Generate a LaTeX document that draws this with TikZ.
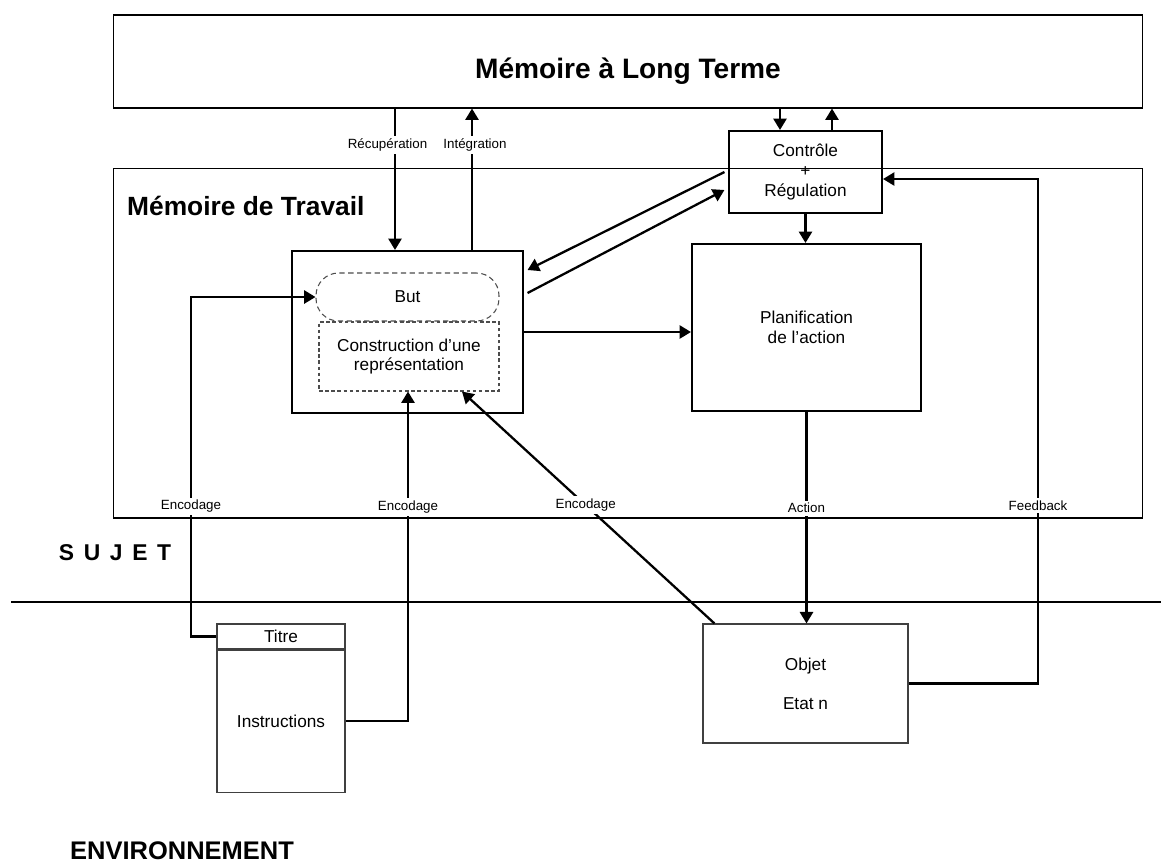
\documentclass[tikz,border=0pt]{standalone}
\usepackage{fontspec}
\setmainfont{Liberation Sans}
\usetikzlibrary{arrows.meta, positioning, calc}
\tikzset{
    mainbox/.style={rectangle, draw, line width=0.6pt, inner sep=0pt},
    block/.style={rectangle, draw, line width=1.2pt, align=center, font=\fontsize{9.8}{11.2}\selectfont, inner sep=0pt},
    envbox/.style={rectangle, draw=black!75, line width=0.7pt, align=center, font=\fontsize{9.8}{11.2}\selectfont, inner sep=0pt},
    dashbox/.style={rectangle, draw=black!70, line width=0.6pt, dash pattern=on 3pt off 2pt, align=center, font=\fontsize{9.8}{11.2}\selectfont, inner sep=0pt},
    lbl/.style={fill=white, inner sep=1.5pt, font=\fontsize{7.6}{9}\selectfont},
    bigtitle/.style={font=\fontsize{16}{19}\selectfont\bfseries},
    subtitle/.style={font=\fontsize{15}{18}\selectfont\bfseries},
    arrow/.style={-{Triangle[length=6.5pt,width=7.5pt]}, line width=1.3pt},
    link/.style={line width=1.3pt},
}
\begin{document}
\begin{tikzpicture}[x=0.02cm, y=-0.02cm]
    \useasboundingbox (0,0) rectangle (1161,867);

    % === MEMOIRE A LONG TERME ===
    \node[mainbox, minimum width=20.6cm, minimum height=1.86cm,
          label={[bigtitle, yshift=-0.2cm]center:Mémoire à Long Terme}] (ltm) at (628,61.5) {};

    % === MEMOIRE DE TRAVAIL ===
    \node[mainbox, minimum width=20.6cm, minimum height=7cm] (wm) at (628,343) {};
    \node[subtitle, anchor=west] (wmtitle) at (121,206) {Mémoire de Travail};

    \node[block, minimum width=3.06cm, minimum height=1.64cm] (ctrl) at (805.5,172) {Contrôle\\+\\Régulation};
    \node[block, minimum width=4.58cm, minimum height=3.34cm] (plan) at (806.5,327.5) {Planification\\de l'action};
    \node[block, minimum width=4.62cm, minimum height=3.24cm] (rep) at (407.5,332) {};
    \node[dashbox, rounded corners=0.45cm, minimum width=3.66cm, minimum height=0.96cm] (but) at (407.5,297) {But};
    \node[dashbox, dash pattern=on 2pt off 1.5pt, minimum width=3.6cm, minimum height=1.38cm] (constr) at (409,356.5) {Construction d'une\\représentation};

    % === SUJET / ENVIRONNEMENT ===
    \coordinate (sepleft) at (11,602);
    \coordinate (sepright) at (1161,602);
    \draw[link] (sepleft) -- (sepright);
    \node[font=\fontsize{13}{15}\selectfont\bfseries] (sujet) at (115,553) {\spaceskip=5.5pt\relax S U J E T};
    \node[font=\fontsize{14.5}{16}\selectfont\bfseries, anchor=west] (env) at (64,851) {ENVIRONNEMENT};

    \node[envbox, minimum width=2.56cm, minimum height=0.5cm] (titre) at (281,636.5) {Titre};
    \node[envbox, minimum width=2.56cm, minimum height=2.84cm, anchor=north] (instr) at (titre.south) {Instructions};
    \node[envbox, minimum width=4.1cm, minimum height=2.38cm] (objet) at (805.5,683.5) {Objet\\[11pt]Etat n};

    % connectors
    \coordinate (recx) at (395,0);
    \coordinate (intx) at (472,0);
    \coordinate (downx) at (780,0);
    \coordinate (upx) at (832,0);
    \coordinate (enc1) at (191,297);
    \coordinate (enc2) at (408,720);
    \coordinate (fb) at (1038,179);

    \draw[arrow] (ltm.south -| recx) -- node[lbl, pos=0.26, xshift=-0.15cm] {Récupération} (rep.north -| recx);
    \draw[arrow] (rep.north -| intx) -- node[lbl, pos=0.74, xshift=0.06cm] {Intégration} (ltm.south -| intx);
    \draw[arrow] (ltm.south -| downx) -- (ctrl.north -| downx);
    \draw[arrow] (ctrl.north -| upx) -- (ltm.south -| upx);
    \draw[arrow] (ctrl.south) -- (ctrl.south |- plan.north);
    \draw[arrow] ([xshift=-2pt]ctrl.west) -- ([xshift=2pt, yshift=1.24cm]rep.east);
    \draw[arrow] ([xshift=2pt, yshift=0.78cm]rep.east) -- ([xshift=-2pt, yshift=-0.36cm]ctrl.west);
    \draw[arrow] (rep.east) -- (rep.east -| plan.west);

    \draw[arrow] (titre.west) -- (titre.west -| enc1) -- node[lbl, pos=0.383] {Encodage} (enc1) -- (but.west);
    \draw[arrow] (instr.east) -- (instr.east -| enc2) -- node[lbl, pos=0.65] {Encodage} (constr.south -| enc2);
    \draw[arrow] ([xshift=0.24cm]objet.north west) -- node[lbl, pos=0.51] {Encodage} ([xshift=1.06cm]constr.south);
    \draw[arrow] (plan.south) -- node[lbl, pos=0.455] {Action} (plan.south |- objet.north);
    \draw[arrow] (objet.east) -- (objet.east -| fb) -- node[lbl, pos=0.353] {Feedback} (fb) -- (ctrl.east |- fb);

\end{tikzpicture}
\end{document}
